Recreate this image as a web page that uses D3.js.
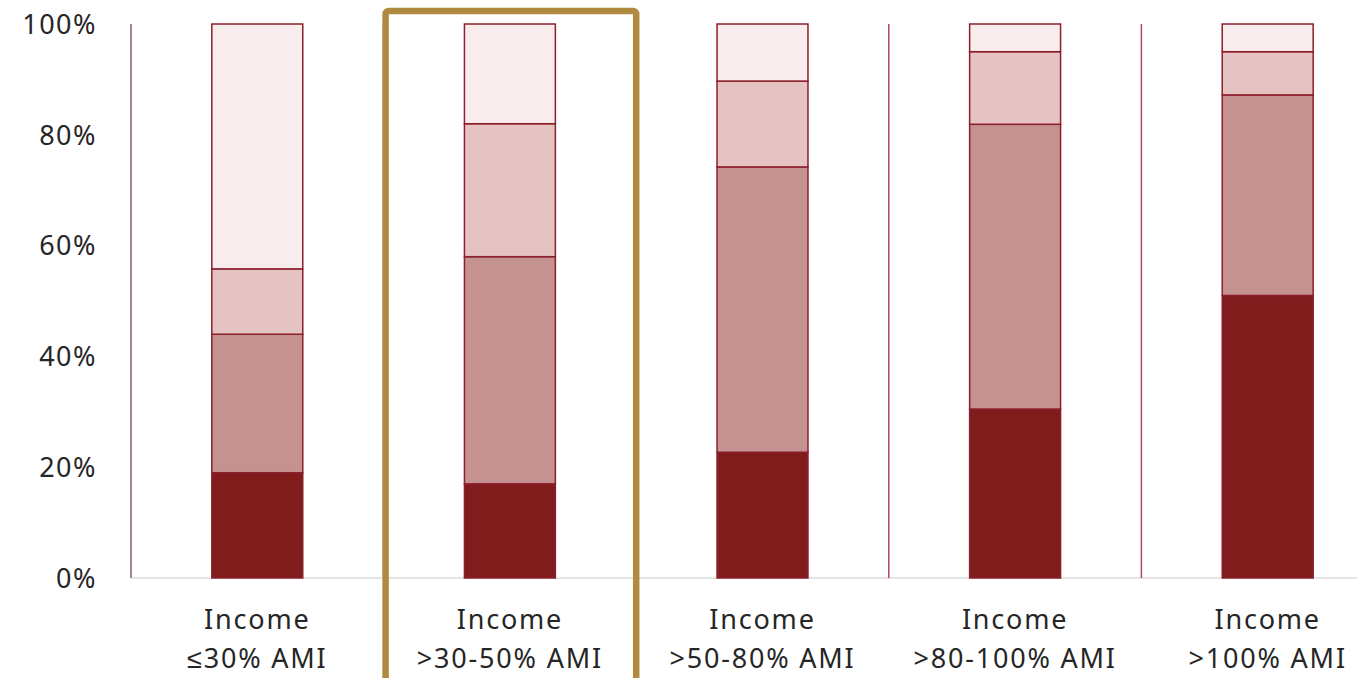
<!DOCTYPE html>
<html>
<head>
<meta charset="utf-8">
<script src="https://cdn.jsdelivr.net/npm/d3@7"></script>
<style>
  body { margin: 0; background: #fff; }
  svg { display: block; }
  text { font-family: "Noto Sans", sans-serif; fill: #262626; }
</style>
</head>
<body>
<div id="chart"></div>
<script>
var width = 1357, height = 678;

// categories (line 1 / line 2 of label)
var categories = ["c1", "c2", "c3", "c4", "c5"];
var labelTop = ["Income", "Income", "Income", "Income", "Income"];
var labelBottom = ["≤30% AMI", ">30-50% AMI", ">50-80% AMI", ">80-100% AMI", ">100% AMI"];

// stacked shares (%), bottom to top
var seg1 = [19, 17, 22.7, 30.5, 51];
var seg2 = [25, 41, 51.5, 51.4, 36.2];
var seg3 = [11.8, 24, 15.5, 13.1, 7.8];
var seg4 = [44.2, 18, 10.3, 5, 5];

var yTicks = [0, 20, 40, 60, 80, 100];
var highlighted = "c2";

var segColors = ["#801c1c", "#c49290", "#e5c3c3", "#f9ecec"];

var svg = d3.select("#chart").append("svg")
	.attr("width", width)
	.attr("height", height);

var x = d3.scaleBand()
	.domain(categories)
	.range([131, 131 + 252.6 * 5])
	.paddingInner(0.64)
	.paddingOuter(0.32);

var y = d3.scaleLinear()
	.domain([0, 100])
	.range([578, 24]);

var series = [seg1, seg2, seg3, seg4];
var rows = categories.map(function(c, i) {
	var r = {cat: c};
	series.forEach(function(s, k) { r["s" + k] = s[i]; });
	return r;
});
var stack = d3.stack().keys(["s0", "s1", "s2", "s3"]);
var stacked = stack(rows);

// baseline
svg.append("line")
	.attr("x1", 131).attr("x2", width)
	.attr("y1", y(0)).attr("y2", y(0))
	.style("stroke", "#dcdcdc")
	.style("stroke-width", 1.5);

// separators between categories
var step = x.step();
var seps = d3.range(categories.length).map(function(i) { return x.range()[0] + i * step; });
svg.selectAll(".sep")
	.data(seps)
	.enter().append("line")
	.attr("class", "sep")
	.attr("x1", function(d) { return d; })
	.attr("x2", function(d) { return d; })
	.attr("y1", y(100))
	.attr("y2", y(0))
	.style("stroke", function(d, i) { return i === 0 ? "#8a5a5a" : "#a84a5c"; })
	.style("stroke-width", 1.5);

// bars
var layer = svg.selectAll(".layer")
	.data(stacked)
	.enter().append("g")
	.attr("class", "layer")
	.style("fill", function(d, i) { return segColors[i]; });

layer.selectAll("rect")
	.data(function(d) { return d; })
	.enter().append("rect")
	.attr("x", function(d) { return x(d.data.cat); })
	.attr("y", function(d) { return y(d[1]); })
	.attr("width", x.bandwidth())
	.attr("height", function(d) { return y(d[0]) - y(d[1]); })
	.style("stroke", "#8c1f2c")
	.style("stroke-width", 1.5);

// y labels
svg.selectAll(".ylab")
	.data(yTicks)
	.enter().append("text")
	.attr("class", "ylab")
	.attr("x", 97)
	.attr("y", function(d) { return y(d); })
	.attr("dy", "0.36em")
	.attr("text-anchor", "end")
	.style("font-size", "27px")
	.style("letter-spacing", "1.5px")
	.text(function(d) { return d + "%"; });

// x labels
var xl = svg.selectAll(".xlab")
	.data(categories)
	.enter().append("text")
	.attr("class", "xlab")
	.attr("text-anchor", "middle")
	.style("font-size", "27px")
	.style("letter-spacing", "1.8px")
	.attr("x", function(d) { return x(d) + x.bandwidth() / 2; });
xl.append("tspan")
	.attr("x", function(d) { return x(d) + x.bandwidth() / 2; })
	.attr("y", 629)
	.text(function(d, i) { return labelTop[i]; });
xl.append("tspan")
	.attr("x", function(d) { return x(d) + x.bandwidth() / 2; })
	.attr("y", 668)
	.text(function(d, i) { return labelBottom[i]; });

// highlight box
var hx = x(highlighted) - x.step() * x.paddingInner() / 2;
svg.append("rect")
	.attr("x", hx + 2)
	.attr("y", 11)
	.attr("width", step - 2)
	.attr("height", 720)
	.attr("rx", 3)
	.style("fill", "none")
	.style("stroke", "#b08a40")
	.style("stroke-width", 6.5);
</script>
</body>
</html>
